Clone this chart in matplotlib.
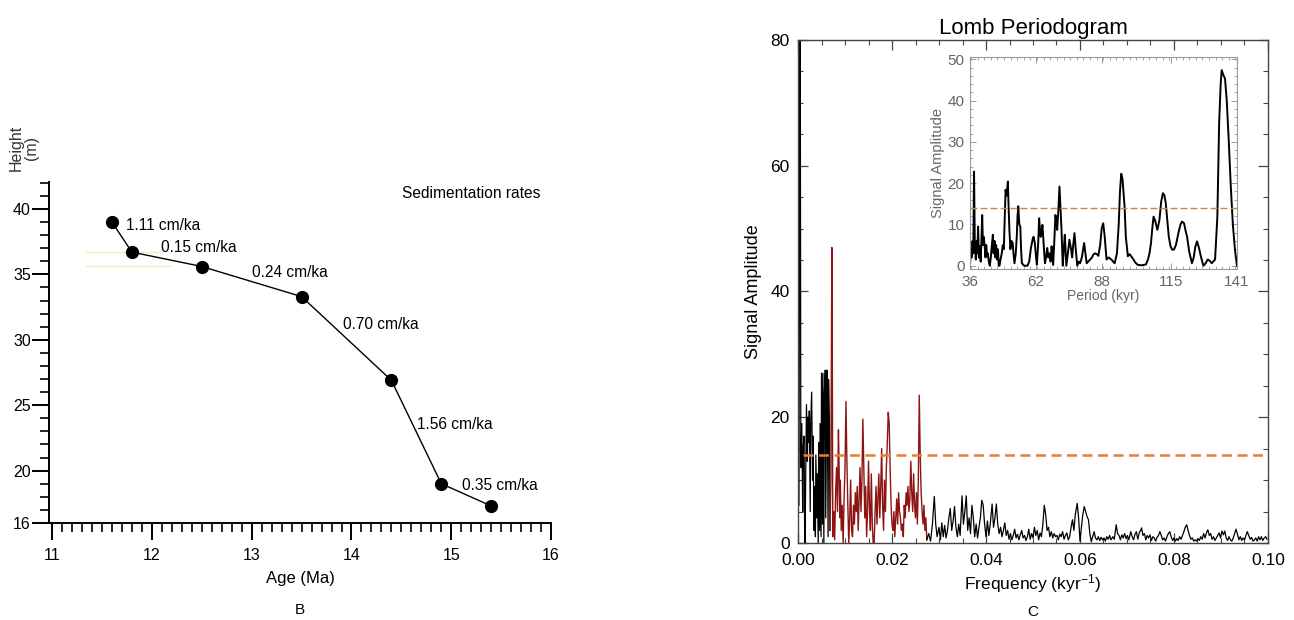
import matplotlib
matplotlib.use('Agg')
import matplotlib.pyplot as plt
from matplotlib.ticker import MultipleLocator, FixedLocator, FormatStrFormatter

plt.rcParams['font.family'] = ['Liberation Sans', 'DejaVu Sans']

# --- panel B: age model ---
age = [11.6, 11.8, 12.5, 13.5, 14.4, 14.9, 15.4]
height = [39.0, 36.7, 35.6, 33.3, 26.9, 19.0, 17.3]
rate_labels = ['1.11 cm/ka', '0.15 cm/ka', '0.24 cm/ka', '0.70 cm/ka', '1.56 cm/ka', '0.35 cm/ka']
rate_x = [11.74, 12.09, 13.0, 13.92, 14.66, 15.11]
rate_y = [38.7, 37.04, 35.13, 31.18, 23.56, 18.9]

# --- panel C: Lomb periodogram ---
low_f = [0.0002, 0.0003, 0.0004, 0.0005, 0.0006, 0.0008, 0.0010, 0.0011, 0.0013, 0.0014,
         0.0015, 0.0016, 0.0018, 0.0020, 0.0021, 0.0023, 0.0024, 0.0026, 0.0027, 0.0029,
         0.0031, 0.0032, 0.0034, 0.0035, 0.0037, 0.0038, 0.0040, 0.0041, 0.0043, 0.0044,
         0.0046, 0.0047, 0.0049, 0.0050, 0.0052, 0.0053, 0.0055, 0.0056, 0.0058, 0.0059,
         0.0061, 0.0062, 0.0064, 0.0065, 0.0067, 0.0068]
low_a = [6, 40, 85, 70, 12, 19, 5, 15, 17, 3,
         0, 8, 22, 13, 20, 16, 21, 5, 19, 24,
         10, 17, 2, 9, 1, 14, 4, 11, 0, 16,
         2, 19, 1, 27, 3, 27, 0, 24, 27.5, 4,
         22, 27.5, 1, 26, 18, 2]

mid_f = [0.0068, 0.0070, 0.0072, 0.0073, 0.0074, 0.0076, 0.0078, 0.0080, 0.0082, 0.0084,
         0.0086, 0.0087, 0.0089, 0.0090, 0.0092, 0.0094, 0.0096, 0.0098, 0.0100, 0.0102,
         0.0104, 0.0106, 0.0108, 0.0110, 0.0112, 0.0114, 0.0116, 0.0118, 0.0120, 0.0122,
         0.0124, 0.0126, 0.0128, 0.0130, 0.0132, 0.0134, 0.0136, 0.0138, 0.0140, 0.0142,
         0.0144, 0.0146, 0.0148, 0.0150, 0.0152, 0.0154, 0.0156, 0.0158, 0.0160, 0.0162,
         0.0164, 0.0166, 0.0168, 0.0170, 0.0172, 0.0174, 0.0176, 0.0178, 0.0180, 0.0182,
         0.0184, 0.0186, 0.0188, 0.0190, 0.0192, 0.0194, 0.0196, 0.0198, 0.0200, 0.0202,
         0.0204, 0.0206, 0.0208, 0.0210, 0.0212, 0.0214, 0.0216, 0.0218, 0.0220, 0.0222,
         0.0224, 0.0226, 0.0228, 0.0230, 0.0232, 0.0234, 0.0236, 0.0238, 0.0240, 0.0242,
         0.0244, 0.0246, 0.0248, 0.0250, 0.0252, 0.0254, 0.0256, 0.0258, 0.0260, 0.0262,
         0.0264, 0.0266, 0.0268, 0.0270, 0.0272, 0.0274]
mid_a = [2, 10, 47, 30, 1, 5, 0.5, 8, 12, 5,
         18, 14, 4, 10, 2, 6, 0, 7, 12, 22.5,
         13, 6, 0, 4, 10, 2, 1, 6, 3, 8,
         5, 9, 2, 7, 12, 5, 10, 19.7, 12, 4,
         9, 1, 5, 13, 6, 2, 11, 3, 0, 0,
         5, 9, 3, 7, 11, 4, 9, 15, 6, 2,
         10, 5, 12, 16, 20.8, 19, 12, 6, 3, 2,
         5, 1, 4, 7, 3, 8, 5, 4, 2, 3,
         1, 6, 4, 8, 6, 9, 5, 7, 13, 8,
         5, 11, 6, 4, 8, 3, 10, 23.5, 14, 8,
         5, 3, 6, 2, 4, 0.5]

high_f = [0.0274, 0.0278, 0.0282, 0.0286, 0.0290, 0.0293, 0.0296, 0.0300, 0.0303, 0.0306,
          0.0309, 0.0312, 0.0315, 0.0318, 0.0321, 0.0324, 0.0327, 0.0330, 0.0333, 0.0336,
          0.0339, 0.0342, 0.0345, 0.0349, 0.0352, 0.0355, 0.0358, 0.0361, 0.0364, 0.0367,
          0.0370, 0.0373, 0.0376, 0.0379, 0.0382, 0.0385, 0.0388, 0.0391, 0.0394, 0.0397,
          0.0400, 0.0403, 0.0406, 0.0409, 0.0413, 0.0416, 0.0419, 0.0422, 0.0425, 0.0428,
          0.0431, 0.0434, 0.0437, 0.0440, 0.0443, 0.0446, 0.0449, 0.0452, 0.0455, 0.0458,
          0.0461, 0.0464, 0.0467, 0.0470, 0.0473, 0.0476, 0.0479, 0.0482, 0.0485, 0.0488,
          0.0491, 0.0494, 0.0497, 0.0500, 0.0503, 0.0506, 0.0509, 0.0512, 0.0515, 0.0518,
          0.0521, 0.0524, 0.0527, 0.0530, 0.0533, 0.0536, 0.0539, 0.0542, 0.0545, 0.0548,
          0.0551, 0.0554, 0.0557, 0.0560, 0.0563, 0.0566, 0.0569, 0.0572, 0.0575, 0.0578,
          0.0581, 0.0584, 0.0587, 0.0590, 0.0594, 0.0597, 0.0600, 0.0603, 0.0606, 0.0609,
          0.0612, 0.0615, 0.0618, 0.0621, 0.0624, 0.0627, 0.0630, 0.0633, 0.0636, 0.0639,
          0.0642, 0.0645, 0.0648, 0.0651, 0.0654, 0.0657, 0.0660, 0.0663, 0.0666, 0.0670,
          0.0673, 0.0677, 0.0680, 0.0683, 0.0686, 0.0689, 0.0692, 0.0695, 0.0698, 0.0701,
          0.0704, 0.0708, 0.0711, 0.0714, 0.0717, 0.0720, 0.0723, 0.0726, 0.0729, 0.0731,
          0.0734, 0.0737, 0.0740, 0.0743, 0.0746, 0.0749, 0.0752, 0.0755, 0.0758, 0.0761,
          0.0764, 0.0767, 0.0770, 0.0773, 0.0776, 0.0779, 0.0782, 0.0785, 0.0788, 0.0791,
          0.0794, 0.0797, 0.0800, 0.0803, 0.0806, 0.0809, 0.0812, 0.0815, 0.0818, 0.0821,
          0.0824, 0.0827, 0.0830, 0.0833, 0.0836, 0.0839, 0.0842, 0.0845, 0.0848, 0.0851,
          0.0854, 0.0857, 0.0860, 0.0863, 0.0866, 0.0869, 0.0872, 0.0875, 0.0878, 0.0881,
          0.0884, 0.0887, 0.0890, 0.0893, 0.0896, 0.0899, 0.0902, 0.0905, 0.0908, 0.0911,
          0.0914, 0.0917, 0.0920, 0.0923, 0.0926, 0.0929, 0.0932, 0.0935, 0.0938, 0.0941,
          0.0944, 0.0947, 0.0950, 0.0953, 0.0956, 0.0959, 0.0962, 0.0965, 0.0968, 0.0971,
          0.0974, 0.0977, 0.0980, 0.0983, 0.0986, 0.0989, 0.0992, 0.0995, 0.0998]
high_a = [0.5, 1.5, 0.3, 3, 7.4, 3, 1, 2.5, 0.5, 3.2,
          1, 2.8, 0.8, 2, 4, 5.5, 2, 3.5, 5.8, 2.5,
          1, 3, 1.2, 7.5, 3, 5, 7.5, 2, 4, 1.5,
          6, 4, 1, 3, 0.8, 2.5, 4, 6.8, 6, 3,
          1, 3.5, 1.2, 3, 6.2, 2.5, 4, 6.2, 3, 1.5,
          2.5, 1, 2, 3.2, 1.2, 2, 0.6, 1.5, 0.5, 1.2,
          2.2, 0.8, 1.4, 0.5, 1.3, 2, 0.8, 1.2, 0.4, 1,
          2.2, 0.6, 1.5, 0.8, 2.5, 1.2, 2, 0.5, 1.6, 1,
          3, 6, 4.5, 2, 2.5, 1, 1.8, 0.8, 1.5, 1,
          1.2, 0.5, 1.4, 1, 1.8, 0.6, 1.2, 1.6, 0.5, 1,
          2.5, 3.7, 2, 4.5, 6.3, 4, 0.3, 2.5, 4.5, 5.8,
          5, 4.2, 3.7, 1.5, 0.2, 1, 1.8, 0.8, 0.5, 1,
          0.4, 0.9, 0.5, 0.8, 0.3, 1, 0.6, 1.2, 0.5, 1,
          0.6, 2.9, 1.5, 1.2, 0.5, 1.3, 0.8, 1.5, 0.7, 1.2,
          0.5, 1.8, 1, 0.5, 1.4, 1.8, 0.6, 1.6, 2, 2.4,
          1.2, 1.5, 0.5, 1.2, 0.8, 1.3, 0.4, 1, 0.8, 0.3,
          0.9, 1.2, 1.8, 1.2, 0.5, 0.8, 0.3, 1, 1.5, 1.8,
          1, 0.4, 0.8, 0.3, 0.7, 0.4, 1, 0.6, 1.2, 1.8,
          2.5, 2.9, 2, 1.2, 0.6, 0.8, 0.3, 0.5, 0.3, 0.7,
          0.4, 1, 0.6, 1.5, 0.8, 1.6, 2.1, 1.2, 1.5, 0.6,
          1, 0.4, 0.8, 1.2, 1.6, 0.8, 1.9, 1.3, 1.9, 0.8,
          0.4, 1, 0.5, 0.3, 0.8, 1.5, 2.2, 1.4, 0.5, 1,
          0.4, 0.8, 0.5, 1.2, 1.8, 1.2, 0.6, 0.9, 0.3, 0.5,
          0.8, 0.3, 1, 0.5, 1, 0.4, 0.8, 1, 0.6]

threshold = 14

# inset: amplitude against period
period = [36.0, 36.3, 36.6, 37.0, 37.3, 37.6, 37.9, 38.3, 38.6, 38.9,
          39.2, 39.5, 39.9, 40.2, 40.5, 40.8, 41.1, 41.4, 41.8, 42.1,
          42.4, 42.7, 43.0, 43.4, 43.8, 44.2, 44.6, 45.0, 45.3, 45.7,
          46.0, 46.3, 46.6, 47.0, 47.3, 47.6, 48.0, 48.5, 48.9, 49.3,
          49.7, 50.0, 50.4, 50.9, 51.2, 51.5, 51.9, 52.3, 52.8, 53.1,
          53.5, 54.0, 54.4, 54.7, 55.0, 55.4, 55.8, 56.1, 56.4, 57.3,
          58.6, 59.3, 59.9, 60.6, 61.0, 61.5, 62.0, 62.3, 62.8, 63.2,
          63.5, 63.8, 64.1, 64.5, 64.9, 65.2, 65.5, 65.9, 66.4, 66.8,
          67.3, 67.7, 68.1, 68.4, 68.7, 69.1, 69.6, 70.0, 70.3, 70.8,
          71.2, 71.6, 72.0, 72.5, 72.9, 73.3, 73.6, 73.9, 74.5, 75.1,
          75.5, 75.8, 76.2, 76.6, 77.1, 77.6, 78.2, 78.8, 79.3, 80.0,
          80.5, 80.9, 81.4, 81.9, 82.5, 83.2, 84.0, 84.5, 85.2, 85.9,
          86.5, 87.2, 87.8, 88.4, 89.0, 89.7, 90.5, 91.6, 92.9, 93.8,
          94.5, 95.0, 95.5, 96.0, 96.8, 97.3, 98.1, 98.8, 99.4, 100.3,
          101.0, 102.0, 103.5, 105.2, 106.0, 106.6, 107.2, 107.7, 108.2, 108.8,
          109.7, 110.5, 111.2, 111.9, 112.5, 113.0, 113.6, 114.2, 114.9, 115.5,
          116.2, 117.0, 118.0, 118.8, 119.4, 120.2, 120.8, 121.4, 122.2, 123.3,
          124.0, 124.6, 125.3, 126.0, 126.8, 127.8, 128.6, 129.5, 130.3, 131.1,
          132.4, 133.3, 134.0, 134.6, 135.0, 135.8, 136.3, 137.0, 137.8, 138.6,
          139.4, 140.2, 141.0]
period_amp = [0, 4, 2, 6, 3, 22.8, 5, 1.5, 6, 3,
              9.5, 2, 4.7, 1, 6, 12.3, 5, 7, 4.7, 2,
              5, 2.3, 3, 1, 0, 2, 5, 7.5, 3, 6,
              2, 5, 1.5, 4, 0, 0, 1.5, 3, 5, 4,
              12, 18.4, 17, 20.4, 14, 8.7, 4, 6, 5.5, 3,
              0.6, 3, 7, 12, 14.4, 10, 9.5, 4, 0.6, 0,
              0, 1, 4, 6.3, 7, 5.5, 2, 0.3, 5, 11.5,
              9, 7, 8, 9.9, 6, 3, 0.6, 2, 4.3, 2,
              3, 1, 4.7, 3, 0.2, 5, 12.3, 11, 8.7, 14,
              19.2, 14, 8.7, 0, 4, 7.5, 4, 0, 3, 6.3,
              5, 3.9, 2, 5, 7.9, 4, 0, 1, 0.6, 2,
              4, 5.5, 3, 0.6, 1, 1.5, 2, 2.7, 3, 2.8,
              2.4, 5, 9, 10.3, 7, 1.5, 2, 1.5, 0.6, 3,
              10, 18, 22.3, 21, 14.4, 7, 2.3, 2.8, 2.3, 1.5,
              0.8, 0.2, 0.1, 0.3, 1.5, 3, 5.5, 9, 11.9, 11,
              8.7, 11, 15.5, 17.6, 17, 15.2, 11, 7, 4.7, 3.9,
              3.9, 5, 8, 10, 10.7, 10.3, 8.5, 7, 3.5, 0.6,
              2, 4.5, 5.9, 4.5, 2.3, 0, 0.5, 1.5, 1.2, 0.6,
              1.5, 11.9, 34.5, 44, 47.4, 46, 45.4, 40, 30, 19,
              10, 4, 0]

fig = plt.figure(figsize=(12.94, 6.2), dpi=100)

# ---------------- panel B ----------------
ax1 = fig.add_axes([0.0379, 0.1565, 0.388, 0.55])
ax1.plot([11.34, 12.11], [36.7, 36.7], color='#f3edc0', lw=1)
ax1.plot([11.34, 12.19], [35.65, 35.65], color='#f3edc0', lw=1)
ax1.plot(age, height, color='black', lw=1, marker='o', markersize=8.5, zorder=3)
for lab, x, y in zip(rate_labels, rate_x, rate_y):
    ax1.text(x, y, lab, fontsize=11.2, ha='left', va='center')
ax1.text(14.51, 41.15, 'Sedimentation rates', fontsize=11.2, ha='left', va='center')

ax1.set_xlim(10.97, 16.0)
ax1.set_ylim(16, 42.06)
ax1.spines['top'].set_visible(False)
ax1.spines['right'].set_visible(False)
ax1.spines['left'].set_linewidth(1.4)
ax1.spines['bottom'].set_linewidth(1.4)
ax1.xaxis.set_major_locator(MultipleLocator(1))
ax1.xaxis.set_minor_locator(MultipleLocator(0.1))
ax1.yaxis.set_major_locator(FixedLocator([16, 20, 25, 30, 35, 40]))
ax1.yaxis.set_minor_locator(MultipleLocator(1))
ax1.tick_params(which='major', direction='out', length=12, width=1.4, labelsize=11.5)
ax1.tick_params(which='minor', direction='out', length=6.5, width=1.2)
ax1.tick_params(axis='y', which='major', pad=1)
ax1.tick_params(axis='x', which='major', pad=6)
ax1.set_xlabel('Age (Ma)', fontsize=12, labelpad=6)
fig.text(0.0185, 1 - 148 / 620, 'Height\n(m)', rotation=90, ha='center', va='center',
         fontsize=11.5, color='#333333', linespacing=0.95)
fig.text(0.2318, 1 - 610 / 620, 'B', fontsize=11, ha='center', va='center')

# ---------------- panel C ----------------
ax2 = fig.add_axes([0.6167, 0.1242, 0.3632, 0.8113])
ax2.plot(low_f, low_a, color='black', lw=0.9)
ax2.plot(mid_f, mid_a, color='#8e1414', lw=1.0)
ax2.plot(high_f, high_a, color='black', lw=0.9)
ax2.axhline(threshold, xmin=0.01, color='#f07b2a', lw=1.8, dashes=(4, 2.2))
ax2.set_xlim(0, 0.1)
ax2.set_ylim(0, 80)
ax2.xaxis.set_major_locator(MultipleLocator(0.02))
ax2.xaxis.set_minor_locator(MultipleLocator(0.005))
ax2.yaxis.set_major_locator(MultipleLocator(20))
ax2.yaxis.set_minor_locator(MultipleLocator(5))
ax2.xaxis.set_major_formatter(FormatStrFormatter('%.2f'))
ax2.tick_params(which='both', direction='in', top=True, right=True, color='#444444')
ax2.tick_params(which='major', length=7, width=0.9, labelsize=12.5, pad=6)
ax2.tick_params(axis='x', which='major', pad=7)
ax2.tick_params(which='minor', length=3.5, width=0.8)
for s in ax2.spines.values():
    s.set_color('#444444')
    s.set_linewidth(1.0)
ax2.set_title('Lomb Periodogram', fontsize=16, pad=4)
ax2.set_ylabel('Signal Amplitude', fontsize=13, labelpad=6)
ax2.set_xlabel('Frequency (kyr$\\mathregular{^{-1}}$)', fontsize=12.5, labelpad=3)
fig.text((798 + 1268) / 2 / 1294, 1 - 612 / 620, 'C', fontsize=11, ha='center', va='center')

# inset
ax3 = fig.add_axes([0.7496, 0.5661, 0.2063, 0.342])
ax3.plot(period, period_amp, color='black', lw=1.4)
ax3.axhline(threshold, color='#c9873f', lw=1.0, dashes=(5, 2.2))
ax3.set_xlim(36, 141)
ax3.set_ylim(-0.8, 50.6)
ax3.xaxis.set_major_locator(FixedLocator([36, 62, 88, 115, 141]))
ax3.xaxis.set_minor_locator(MultipleLocator(2.6))
ax3.yaxis.set_major_locator(MultipleLocator(10))
ax3.yaxis.set_minor_locator(MultipleLocator(2))
ax3.tick_params(which='both', direction='in', top=True, right=True, color='#999999',
                labelcolor='#666666')
ax3.tick_params(which='major', length=4, width=0.7, labelsize=11, pad=4)
ax3.tick_params(which='minor', length=2, width=0.6)
for s in ax3.spines.values():
    s.set_color('#999999')
    s.set_linewidth(0.8)
ax3.set_xlabel('Period (kyr)', fontsize=10, color='#666666', labelpad=0)
ax3.set_ylabel('Signal Amplitude', fontsize=10.5, color='#666666', labelpad=2)

fig.savefig('out.png', dpi=100)
